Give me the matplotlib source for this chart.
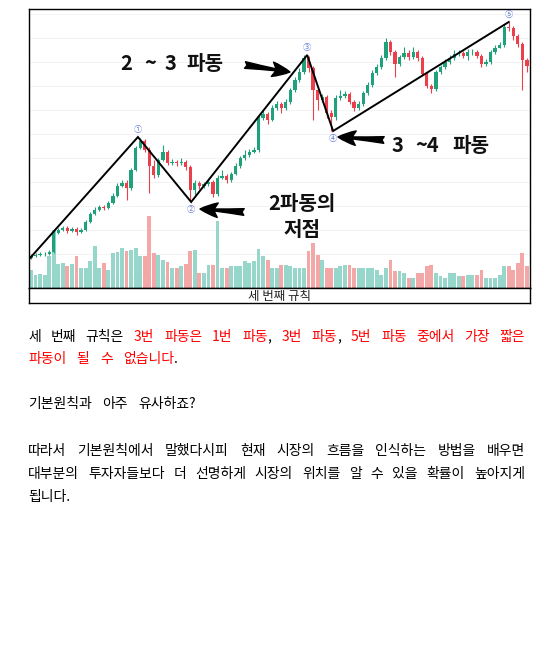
import numpy as np
import matplotlib
matplotlib.use('Agg')
from matplotlib import pyplot as plt

plt.rcParams['font.family'] = ['Noto Sans CJK KR', 'DejaVu Sans']

W, H = 560, 665

# candle data (arbitrary price units)
first_open = 42
closes = [44, 45, 46, 46, 48, 67, 70, 72, 69, 71,
          68, 70, 78, 86, 90, 93, 92, 97, 104, 114,
          117, 112, 130, 152, 159, 150, 134, 125, 140, 148,
          137, 138, 137, 138, 133, 110, 117, 114, 116, 118,
          106, 122, 124, 120, 126, 134, 142, 145, 148, 150,
          182, 186, 180, 192, 196, 192, 198, 210, 220, 228,
          242, 232, 210, 200, 203, 187, 183, 202, 204, 206,
          198, 192, 196, 207, 215, 227, 233, 242, 258, 248,
          236, 243, 247, 243, 248, 242, 226, 214, 211, 228,
          233, 238, 242, 246, 247, 244, 248, 248, 244, 236,
          238, 248, 252, 255, 273, 272, 264, 256, 240, 234]
highs = [46, 47, 48, 48, 50, 69, 72, 74, 74, 73,
         73, 72, 80, 88, 93, 95, 95, 99, 107, 117,
         120, 120, 132, 154, 162, 161, 153, 140, 142, 155,
         150, 141, 140, 142, 140, 135, 120, 119, 118, 121,
         120, 125, 130, 126, 128, 137, 144, 150, 151, 153,
         184, 190, 188, 195, 199, 198, 201, 212, 223, 232,
         245, 244, 234, 212, 206, 205, 190, 205, 210, 209,
         208, 200, 199, 209, 218, 230, 236, 245, 262, 260,
         250, 245, 253, 250, 253, 250, 244, 228, 216, 230,
         235, 241, 245, 250, 250, 249, 251, 251, 250, 246,
         241, 250, 255, 258, 276, 278, 274, 266, 258, 242]
lows = [41, 43, 44, 44, 45, 47, 66, 69, 67, 68,
        65, 67, 69, 77, 85, 89, 90, 91, 96, 103,
        113, 100, 110, 129, 151, 148, 107, 122, 123, 139,
        135, 135, 134, 135, 130, 99, 105, 111, 112, 114,
        103, 104, 121, 117, 118, 125, 132, 140, 143, 147,
        148, 180, 176, 179, 190, 187, 190, 196, 208, 218,
        226, 228, 180, 190, 198, 182, 169, 180, 200, 202,
        196, 189, 190, 194, 205, 213, 225, 231, 240, 245,
        223, 234, 241, 240, 241, 239, 224, 212, 207, 209,
        226, 231, 236, 240, 244, 242, 240, 245, 242, 233,
        234, 236, 246, 252, 253, 269, 260, 253, 210, 228]
volumes = [18, 13, 14, 13, 32, 58, 24, 25, 22, 24,
           32, 20, 20, 27, 42, 20, 25, 18, 35, 36,
           40, 37, 38, 40, 32, 32, 72, 35, 33, 28,
           26, 20, 20, 22, 24, 37, 38, 15, 15, 23,
           23, 67, 20, 20, 22, 22, 22, 27, 25, 27,
           39, 32, 28, 20, 20, 23, 23, 22, 20, 20,
           20, 37, 45, 33, 28, 20, 20, 20, 22, 23,
           23, 20, 20, 20, 20, 20, 18, 13, 20, 28,
           17, 17, 15, 10, 10, 15, 15, 22, 23, 15,
           12, 10, 15, 15, 12, 12, 13, 13, 13, 18,
           10, 10, 10, 13, 22, 22, 18, 25, 35, 22]

# elliott wave pivots
wave_idx = [-0.2, 23.5, 35.2, 60.7, 66.4, 105]
wave_price = [42, 163, 98, 245, 169, 278]
wave_labels = ['', '①', '②', '③', '④', '⑤']
wave_label_side = [0, 1, -1, 1, -1, 1]

RED = '#ff0000'
BLACK = '#000000'
para1 = [
    [("세 번째 규칙은", BLACK), (" 3번 파동은 1번 파동", RED), (",", BLACK),
     (" 3번 파동", RED), (",", BLACK), (" 5번 파동 중에서 가장 짧은", RED)],
    [("파동이 될 수 없습니다", RED), (".", BLACK)],
]
para2 = [[("기본원칙과 아주 유사하죠?", BLACK)]]
para3 = [
    [("따라서 기본원칙에서 말했다시피 현재 시장의 흐름을 인식하는 방법을 배우면", BLACK)],
    [("대부분의 투자자들보다 더 선명하게 시장의 위치를 알 수 있을 확률이 높아지게", BLACK)],
    [("됩니다.", BLACK)],
]

UP = '#1fa27c'
DOWN = '#ec3f4c'
UP_VOL = '#97d6ca'
DOWN_VOL = '#f4a7a7'


def fx(x):
    return x / W


def fy(y):
    return 1 - y / H


fig = plt.figure(figsize=(W / 100, H / 100), dpi=100)
fig.patch.set_facecolor('white')

rect = [fx(29), fy(288), (530 - 29) / W, (288 - 9) / H]
vax = fig.add_axes(rect)
ax = fig.add_axes(rect, sharex=vax)
ax.patch.set_alpha(0)

n = len(closes)
x = np.arange(n)
opens = [first_open] + closes[:-1]
up = [c >= o for o, c in zip(opens, closes)]

vax.set_ylim(0, 279)
vax.bar(x, volumes, width=0.84, color=[UP_VOL if u else DOWN_VOL for u in up])
vax.set_xticks(np.arange(2, n, 12))
vax.set_yticks(np.arange(10, 279, 24))
vax.grid(color='#f1f1f1', lw=0.6)
vax.set_axisbelow(True)
vax.tick_params(length=0, labelbottom=False, labelleft=False)
for s in vax.spines.values():
    s.set_visible(False)

ax.set_xlim(-0.44, 109.67)
ax.set_ylim(12, 291)
cols = [UP if u else DOWN for u in up]
ax.vlines(x, lows, highs, colors=cols, lw=0.8)
ax.bar(x, np.array(closes) - np.array(opens), bottom=opens, width=0.72, color=cols)
ax.plot(wave_idx, wave_price, color='black', lw=1.4, solid_joinstyle='miter')
for i, p, lab, side in zip(wave_idx, wave_price, wave_labels, wave_label_side):
    if lab:
        ax.annotate(lab, (i, p), xytext=(0, 5.5 * side), textcoords='offset points',
                    ha='center', va='center', fontsize=6, color='#6d80d8')
ax.tick_params(length=0, labelbottom=False, labelleft=False, bottom=False, left=False)
ax.set_xticks([])
ax.set_yticks([])
for s in ax.spines.values():
    s.set_color('black')
    s.set_linewidth(1)

cax = fig.add_axes([fx(29), fy(303), 501 / W, 15 / H])
cax.set_xticks([])
cax.set_yticks([])
for s in cax.spines.values():
    s.set_linewidth(1)
cax.text(0.5, 0.45, '세 번째 규칙', ha='center', va='center', fontsize=9,
         transform=cax.transAxes, color='#222222')

# annotations on the chart (the source picture is stretched sideways,
# so the tokens are spread out to the same spots)
bold = dict(fontsize=14.5, fontweight='bold', color='#111111', va='center', ha='left')
for tok, tx in zip(['2', '~', '3', '파동'], [120, 144, 165, 186]):
    fig.text(fx(tx), fy(64), tok, **bold)
for tok, tx in zip(['3', '~4', '파동'], [392, 415, 452]):
    fig.text(fx(tx), fy(145), tok, **bold)
fig.text(fx(302), fy(203), '2파동의', **dict(bold, ha='center'))
fig.text(fx(302), fy(229), '저점', **dict(bold, ha='center'))

arrows = [((245, 65), (290, 72)), ((384, 140), (338, 137)), ((244, 212), (200, 209))]
for (tx, ty), (hx, hy) in arrows:
    ax.annotate('', xy=(hx, H - hy), xycoords='figure pixels',
                xytext=(tx, H - ty), textcoords='figure pixels', annotation_clip=False,
                arrowprops=dict(arrowstyle='fancy,head_length=0.8,head_width=0.65,tail_width=0.3',
                                color='black', shrinkA=0, shrinkB=0, mutation_scale=16))

# body text, word by word so that full lines can be justified
renderer = fig.canvas.get_renderer()
BODY = 10


def split_words(segs):
    words = [[]]
    for text, color in segs:
        for k, part in enumerate(text.split(' ')):
            if k > 0:
                words.append([])
            if part:
                words[-1].append((part, color))
    return [w for w in words if w]


def put_line(segs, y, justify, x0=28, x1=525, gap=10.5):
    words = split_words(segs)
    placed = []
    widths = []
    for word in words:
        arts = []
        w = 0
        for s, c in word:
            t = fig.text(0, fy(y), s, color=c, fontsize=BODY, va='center', ha='left')
            arts.append((t, w))
            w += t.get_window_extent(renderer).width
        placed.append(arts)
        widths.append(w)
    if justify and len(words) > 1:
        gap = (x1 - x0 - sum(widths)) / (len(words) - 1)
    xx = x0
    for arts, w in zip(placed, widths):
        for t, off in arts:
            t.set_x(fx(xx + off))
        xx += w + gap


put_line(para1[0], 337, True)
put_line(para1[1], 359, False)
put_line(para2[0], 404, False)
put_line(para3[0], 451, True)
put_line(para3[1], 474, True)
put_line(para3[2], 497, False)

fig.savefig('out.png', dpi=100)
